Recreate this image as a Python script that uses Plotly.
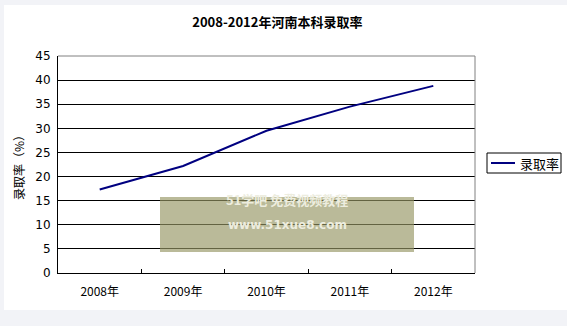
import plotly.graph_objects as go

categories = ["2008年", "2009年", "2010年", "2011年", "2012年"]
rates = [17.3, 22.2, 29.5, 34.5, 38.8]
series_name = "录取率"
y_ticks = [0, 5, 10, 15, 20, 25, 30, 35, 40, 45]

W, H = 567, 326
L, R, T, B = 58, 92, 56, 53
pw = W - L - R
ph = H - T - B

def px_x(x):
    return (x - L) / pw

def px_y(y):
    return (H - B - y) / ph

cjk = "Noto Sans CJK SC"
line_color = "#000080"

fig = go.Figure()
fig.add_trace(go.Scatter(
    x=categories, y=rates, mode="lines", name=series_name,
    line=dict(color=line_color, width=2), showlegend=False,
))

# outer grey frame + white card
fig.add_shape(type="rect", xref="paper", yref="paper",
              x0=px_x(4), x1=px_x(W + 2), y0=px_y(310), y1=px_y(5),
              fillcolor="white", line=dict(width=0), layer="below")

# watermark box
fig.add_shape(type="rect", xref="paper", yref="paper",
              x0=px_x(160), x1=px_x(414), y0=px_y(252), y1=px_y(197),
              fillcolor="rgba(150,150,100,0.66)", line=dict(width=0), layer="above")
fig.add_annotation(x=px_x(287), y=px_y(211), xref="paper", yref="paper",
                   text="<b>51学吧 免费视频教程</b>", showarrow=False,
                   font=dict(family=cjk, size=13, color="#ededdf"))
fig.add_annotation(x=px_x(287), y=px_y(234), xref="paper", yref="paper",
                   text="<b>www.51xue8.com</b>", showarrow=False,
                   font=dict(family="DejaVu Sans", size=12, color="#ededdf"))

# manual legend
fig.add_shape(type="rect", xref="paper", yref="paper",
              x0=px_x(487), x1=px_x(561), y0=px_y(173), y1=px_y(153),
              fillcolor="white", line=dict(color="black", width=1))
fig.add_shape(type="line", xref="paper", yref="paper",
              x0=px_x(491), x1=px_x(515), y0=px_y(163), y1=px_y(163),
              line=dict(color=line_color, width=2))
fig.add_annotation(x=px_x(518), y=px_y(163), xref="paper", yref="paper",
                   xanchor="left", yanchor="middle", text=series_name, showarrow=False,
                   font=dict(family=cjk, size=13, color="black"))

fig.update_layout(
    width=W, height=H,
    margin=dict(l=L, r=R, t=T, b=B),
    paper_bgcolor="#f2f3f7",
    plot_bgcolor="white",
    title=dict(text="<b>2008-2012年河南本科录取率</b>", x=px_x(262), xanchor="center",
               y=1 - 22 / H, yanchor="middle",
               font=dict(family=cjk, size=13, color="black")),
    font=dict(family=cjk, size=12, color="black"),
    showlegend=False,
)

fig.update_xaxes(
    type="category", range=[-0.5, 4.5],
    showgrid=False, showline=True, linecolor="black", linewidth=1,
    ticks="inside", ticklen=4, tickcolor="black", tickson="boundaries",
    ticklabelstandoff=8,
    tickfont=dict(family=cjk, size=12, color="black"),
    mirror=False, zeroline=False,
)
fig.update_yaxes(
    range=[0, 45], tickvals=y_ticks, ticktext=[str(v) for v in y_ticks],
    showgrid=True, gridcolor="black", gridwidth=1,
    showline=True, linecolor="black", linewidth=1, ticks="",
    tickfont=dict(family="DejaVu Sans", size=12, color="black"),
    ticklabelstandoff=4,
    title=dict(text="录取率（%）", font=dict(family=cjk, size=12, color="black"), standoff=8),
    zeroline=False,
)

# grey plot-area border on top and right
fig.add_shape(type="line", xref="paper", yref="paper", x0=0, x1=1, y0=1, y1=1,
              line=dict(color="#808080", width=1))
fig.add_shape(type="line", xref="paper", yref="paper", x0=1, x1=1, y0=0, y1=1,
              line=dict(color="#808080", width=1))

fig.write_html("out.html")
